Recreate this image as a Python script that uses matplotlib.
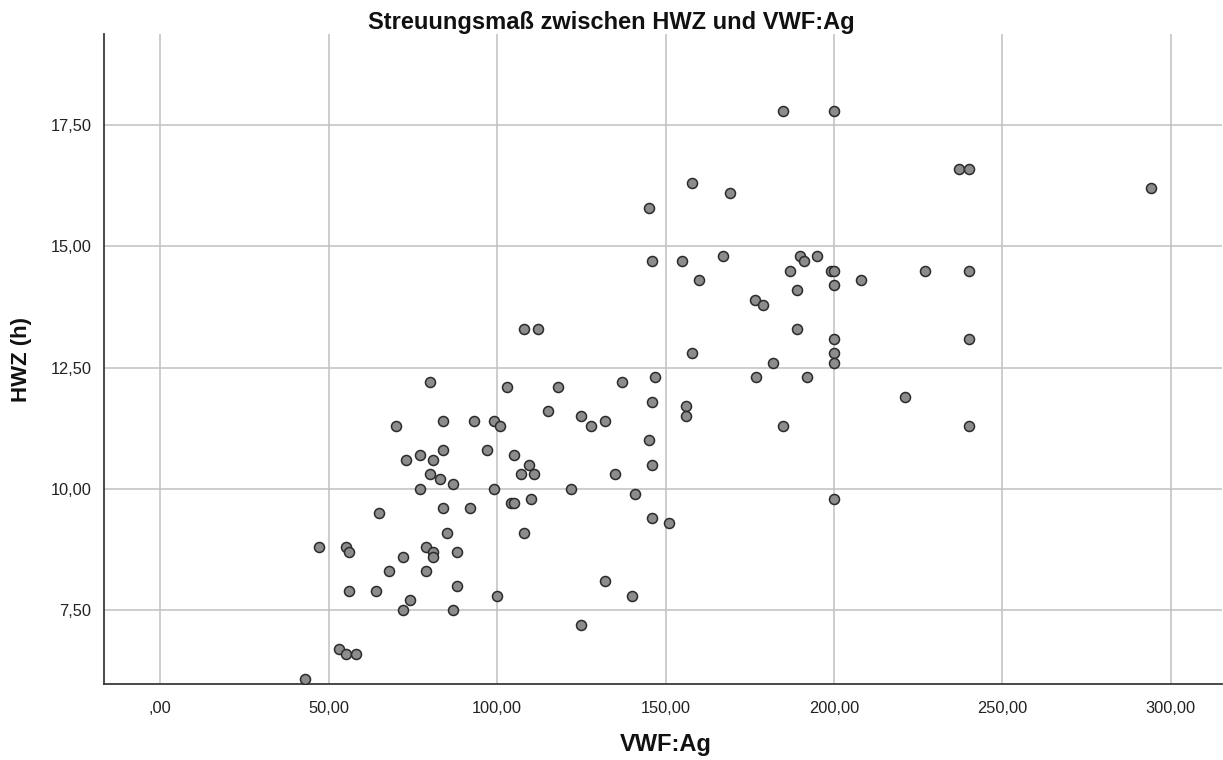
import matplotlib
matplotlib.use("Agg")
import matplotlib.pyplot as plt
from matplotlib.ticker import FuncFormatter

plt.rcParams['font.family'] = ['Liberation Sans', 'DejaVu Sans']

vwf_ag = [185, 200, 158, 169, 145, 237, 240, 294,
          146, 155, 167, 190, 191, 195, 160, 187, 189, 176.5, 179, 189,
          108, 112, 158, 182, 177, 192, 147, 137, 80, 103, 118,
          146, 156, 156, 185, 115, 125, 128, 132, 84, 93, 99, 101, 70,
          145, 146, 135, 122, 141, 105, 109.5, 107, 111, 99, 97, 84, 77,
          81, 73, 80, 83, 87, 77, 110, 104, 105, 84, 92, 146, 151, 85, 108,
          79, 81, 81, 72, 88, 79, 88, 100, 74, 72, 87, 132, 140, 125,
          65, 47, 55, 56, 68, 56, 64, 53, 55, 58, 43,
          199, 200, 227, 240, 208, 200, 200, 240, 200, 200, 221, 240, 200]
hwz = [17.8, 17.8, 16.3, 16.1, 15.8, 16.6, 16.6, 16.2,
       14.7, 14.7, 14.8, 14.8, 14.7, 14.8, 14.3, 14.5, 14.1, 13.9, 13.8, 13.3,
       13.3, 13.3, 12.8, 12.6, 12.3, 12.3, 12.3, 12.2, 12.2, 12.1, 12.1,
       11.8, 11.7, 11.5, 11.3, 11.6, 11.5, 11.3, 11.4, 11.4, 11.4, 11.4, 11.3, 11.3,
       11.0, 10.5, 10.3, 10.0, 9.9, 10.7, 10.5, 10.3, 10.3, 10.0, 10.8, 10.8, 10.7,
       10.6, 10.6, 10.3, 10.2, 10.1, 10.0, 9.8, 9.7, 9.7, 9.6, 9.6, 9.4, 9.3, 9.1, 9.1,
       8.8, 8.7, 8.6, 8.6, 8.7, 8.3, 8.0, 7.8, 7.7, 7.5, 7.5, 8.1, 7.8, 7.2,
       9.5, 8.8, 8.8, 8.7, 8.3, 7.9, 7.9, 6.7, 6.6, 6.6, 6.07,
       14.5, 14.5, 14.5, 14.5, 14.3, 14.2, 13.1, 13.1, 12.8, 12.6, 11.9, 11.3, 9.8]

x_ticks = [0, 50, 100, 150, 200, 250, 300]
y_ticks = [7.5, 10.0, 12.5, 15.0, 17.5]

title = "Streuungsmaß zwischen HWZ und VWF:Ag"
x_label = "VWF:Ag"
y_label = "HWZ (h)"

fig = plt.figure(figsize=(12.23, 7.60), dpi=100)
ax = fig.add_axes([104/1223, 1 - 684.3/760, 1118/1223, (684.3 - 34)/760])

ax.scatter(vwf_ag, hwz, s=52, facecolor='#8c8c8c', edgecolor='#2b2b2b',
           linewidths=1.1, zorder=3)

ax.set_xlim(-16.7, 315.2)
ax.set_ylim(5.97, 19.38)
ax.set_xticks(x_ticks)
ax.set_yticks(y_ticks)

def fmt(v, pos):
    s = f"{v:.2f}".replace('.', ',')
    if s.startswith('0,'):
        s = s[1:]
    return s

ax.xaxis.set_major_formatter(FuncFormatter(fmt))
ax.yaxis.set_major_formatter(FuncFormatter(fmt))
ax.tick_params(axis='both', length=0, labelsize=11.8, labelcolor='#222222')
ax.tick_params(axis='x', pad=12)
ax.tick_params(axis='y', pad=9)

ax.grid(True, color='#c0c0c0', linewidth=1.1, zorder=0)
ax.set_axisbelow(True)
for side in ['top', 'right']:
    ax.spines[side].set_visible(False)
for side in ['left', 'bottom']:
    ax.spines[side].set_color('#3a3a3a')
    ax.spines[side].set_linewidth(1.3)

fig.text(0.5, 1 - 22/760, title, ha='center', va='center', fontsize=17,
         fontweight='bold', color='#111111')
fig.text(666/1223, 1 - 745/760, x_label, ha='center', va='center', fontsize=17,
         fontweight='bold', color='#111111')
fig.text(22/1223, 1 - 360/760, y_label, ha='center', va='center', fontsize=16,
         fontweight='bold', color='#111111', rotation=90)

fig.savefig('out.png', dpi=100)
